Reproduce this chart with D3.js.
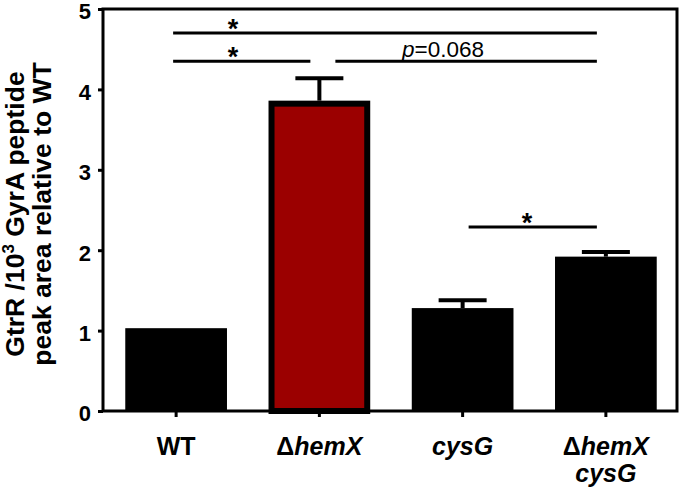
<!DOCTYPE html>
<html>
<head>
<meta charset="utf-8">
<script src="https://cdn.jsdelivr.net/npm/d3@7"></script>
<style>
  html, body { margin: 0; padding: 0; background: #fff; }
  svg { display: block; font-family: "Liberation Sans", Arial, Helvetica, sans-serif; }
</style>
</head>
<body>
<svg id="chart" width="680" height="491"></svg>
<script>
// ---- data ----
const categories = ["WT", "ΔhemX", "cysG", "ΔhemX cysG"];
const values = [1.03, 3.86, 1.28, 1.92];
const errors = [0, 0.29, 0.11, 0.07];
const barColors = ["#000000", "#9b0000", "#000000", "#000000"];
const yTicks = [0, 1, 2, 3, 4, 5];
// significance annotations
const sigFrom = [0, 0, 1, 2];
const sigTo = [3, 1, 3, 3];
const sigY = [4.70, 4.35, 4.35, 2.29];
const sigLabel = ["*", "*", "p=0.068", "*"];

(function () {
const svg = d3.select("#chart");
const mLeft = 103, mRight = 677, mTop = 9, mBottom = 411;

const x = d3.scaleBand().domain(categories).range([104.5, 677.5])
  .paddingInner(0.29).paddingOuter(0.145);
const y = d3.scaleLinear().domain([0, 5]).range([mBottom, mTop]);
const cxOf = c => x(c) + x.bandwidth() / 2;

// bars
categories.forEach((c, i) => {
  const bx = x(c), bw = x.bandwidth();
  const by = y(values[i]);
  if (i === 1) {
    svg.append("rect").attr("x", bx + 3).attr("y", by + 3)
      .attr("width", bw - 6).attr("height", mBottom - by - 3)
      .attr("fill", barColors[i]).attr("stroke", "#000").attr("stroke-width", 6);
  } else {
    svg.append("rect").attr("x", bx).attr("y", by)
      .attr("width", bw).attr("height", mBottom - by)
      .attr("fill", barColors[i]);
  }
  if (errors[i] > 0) {
    const cx = cxOf(c);
    const ey = y(values[i] + errors[i]);
    svg.append("line").attr("x1", cx).attr("x2", cx).attr("y1", by).attr("y2", ey)
      .attr("stroke", "#000").attr("stroke-width", 4);
    svg.append("line").attr("x1", cx - 24).attr("x2", cx + 24).attr("y1", ey + 1).attr("y2", ey + 1)
      .attr("stroke", "#000").attr("stroke-width", 4);
  }
});

// frame (box)
svg.append("path")
  .attr("d", `M${mLeft},${mTop}H${mRight}V${mBottom}H${mLeft}Z`)
  .attr("fill", "none").attr("stroke", "#000").attr("stroke-width", 3);

// y axis
const yAxis = svg.append("g").attr("transform", `translate(${mLeft},0)`)
  .call(d3.axisLeft(y).tickValues(yTicks).tickSize(5).tickPadding(7).tickFormat(d3.format("d")));
yAxis.select(".domain").remove();
yAxis.selectAll(".tick line").attr("stroke", "#000").attr("stroke-width", 3);
yAxis.selectAll(".tick text").attr("font-size", 22).attr("font-weight", "bold")
  .attr("dy", "0.45em")
  .attr("fill", "#000").attr("font-family", "Liberation Sans, Arial, sans-serif");

// x axis ticks
const xAxis = svg.append("g").attr("transform", `translate(0,${mBottom})`)
  .call(d3.axisBottom(x).tickSize(6).tickFormat(""));
xAxis.select(".domain").remove();
xAxis.selectAll(".tick line").attr("stroke", "#000").attr("stroke-width", 3);

// x labels
const xl = svg.append("g").attr("font-size", 25).attr("font-weight", "bold")
  .attr("text-anchor", "middle").attr("fill", "#000");
categories.forEach((c, i) => {
  const cx = cxOf(c);
  const t = xl.append("text").attr("x", cx).attr("y", 455);
  if (c === "WT") {
    t.text("WT");
  } else if (c === "ΔhemX") {
    t.append("tspan").text("Δ");
    t.append("tspan").attr("font-style", "italic").text("hemX");
  } else if (c === "cysG") {
    t.append("tspan").attr("font-style", "italic").text("cysG");
  } else {
    t.append("tspan").text("Δ");
    t.append("tspan").attr("font-style", "italic").text("hemX");
    xl.append("text").attr("x", cx).attr("y", 482).attr("font-style", "italic").text("cysG");
  }
});

// y label
const yl = svg.append("g").attr("font-size", 26.5).attr("font-weight", "bold")
  .attr("text-anchor", "middle").attr("fill", "#000");
const l1 = yl.append("text").attr("transform", "translate(24,214) rotate(-90)");
l1.append("tspan").text("GtrR /10");
l1.append("tspan").attr("font-size", 17).attr("dy", -10).text("3");
l1.append("tspan").attr("dy", 10).text(" GyrA peptide");
yl.append("text").attr("transform", "translate(51,214) rotate(-90)").text("peak area relative to WT");

// significance annotations (layout offsets separate from data)
const startOff = [-3, -3, 16, 6];
const starX = [233, 233, 0, 527];
sigFrom.forEach((f, i) => {
  const ly = y(sigY[i]);
  const x1 = cxOf(categories[f]) + startOff[i];
  const x2 = cxOf(categories[sigTo[i]]) - 9;
  svg.append("line").attr("x1", x1).attr("x2", x2).attr("y1", ly).attr("y2", ly)
    .attr("stroke", "#000").attr("stroke-width", 3);
  if (sigLabel[i] === "*") {
    svg.append("text").attr("x", starX[i]).attr("y", ly + 5).attr("text-anchor", "middle")
      .attr("font-size", 27).attr("font-weight", "bold").attr("fill", "#000").text("*");
  } else {
    const t = svg.append("text").attr("x", 402).attr("y", ly - 4).attr("font-size", 22.5).attr("fill", "#000");
    t.append("tspan").attr("font-style", "italic").text("p");
    t.append("tspan").text("=0.068");
  }
});
})();
</script>
</body>
</html>
